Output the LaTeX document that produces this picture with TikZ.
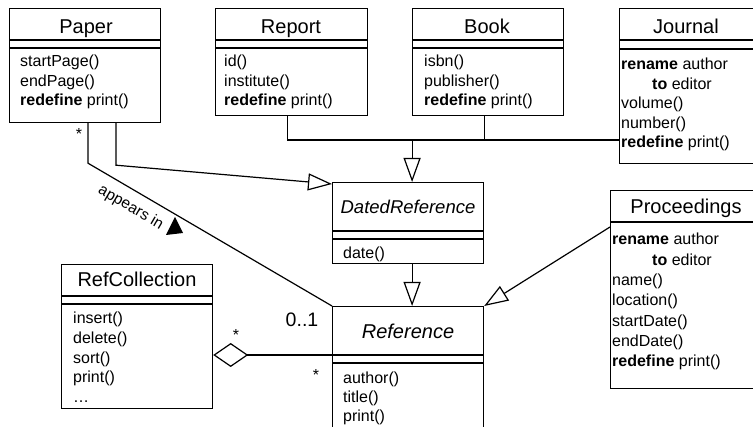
\documentclass[tikz,border=0pt]{standalone}
\usepackage{fontspec}
\setmainfont{Liberation Sans}
\usetikzlibrary{arrows.meta}

% class box: name, left, top, width, height
\newcommand\umlbox[5]{%
  \node[classbox, minimum width=#4pt, minimum height=#5pt, anchor=north west] (#1) at (#2,#3) {};}
% compartment separator: node, distance below its top edge
\newcommand\umlsep[2]{%
  \draw[conn] ([yshift=-#2pt]#1.north west) -- ([yshift=-#2pt]#1.north east);}
% member lines: prefix, left, first baseline, baseline spacing, list
\newcommand\umlmembers[5]{%
  \foreach \t [count=\i from 0] in {#5}
    \node[memb] (#1-\i) at (#2, #3+#4*\i) {\t};}

\begin{document}
\begin{tikzpicture}[x=1pt,y=-1pt,
  classbox/.style={draw, line width=1.2pt, inner sep=0pt},
  conn/.style={line width=1.2pt},
  hdr/.style={anchor=base, inner sep=0pt, font=\fontsize{20}{22}\selectfont},
  memb/.style={anchor=base west, inner sep=0pt, font=\fontsize{16}{18}\selectfont},
  mult/.style={anchor=base, inner sep=0pt, font=\fontsize{16}{18}\selectfont},
  gen/.style={conn, line join=miter, -{Triangle[open, length=24pt, width=17pt]}},
  agg/.style={conn, line join=miter, {Diamond[open, length=35pt, width=24pt]}-},
]
\useasboundingbox (0,0) rectangle (753,427);
\fill[white] (0,0) rectangle (753,427);
\clip (0,0) rectangle (753,427);

% ---- classes ----
\umlbox{paper}{9}{8}{151}{114}
\umlsep{paper}{32}\umlsep{paper}{40}
\node[hdr] (paper-t) at (86,34) {Paper};
\umlmembers{paper}{20}{67}{19.5}{startPage(), endPage(), \textbf{redefine} print()}

\umlbox{report}{215}{8}{152}{107}
\umlsep{report}{32}\umlsep{report}{40}
\node[hdr] (report-t) at (291,34) {Report};
\umlmembers{report}{224}{67}{19.5}{id(), institute(), \textbf{redefine} print()}

\umlbox{book}{412}{8}{151}{107}
\umlsep{book}{32}\umlsep{book}{40}
\node[hdr] (book-t) at (487,34) {Book};
\umlmembers{book}{424}{67}{19.5}{isbn(), publisher(), \textbf{redefine} print()}

\umlbox{journal}{619}{8}{141}{155}
\umlsep{journal}{32}\umlsep{journal}{41}
\node[hdr] (journal-t) at (686,34) {Journal};
\umlmembers{journal}{621}{70}{19.5}{\textbf{rename} author, \hspace*{31pt}\textbf{to} editor, volume(), number(), \textbf{redefine} print()}

\umlbox{dated}{332}{182}{151}{81}
\umlsep{dated}{49}\umlsep{dated}{57}
\node[hdr, font=\fontsize{18.5}{22}\selectfont\itshape] (dated-t) at (408,214) {DatedReference};
\umlmembers{dated}{343}{259}{19.5}{date()}

\umlbox{ref}{332}{306}{151}{140}
\umlsep{ref}{49}\umlsep{ref}{57}
\node[hdr, font=\fontsize{20}{22}\selectfont\itshape] (ref-t) at (408,339) {Reference};
\umlmembers{ref}{343}{384}{19}{author(), title(), print()}

\umlbox{proc}{610}{190}{150}{198}
\umlsep{proc}{32}
\node[hdr] (proc-t) at (686,214) {Proceedings};
\umlmembers{proc}{612}{245}{20.3}{\textbf{rename} author, \hspace*{40pt}\textbf{to} editor, name(), location(), startDate(), endDate(), \textbf{redefine} print()}

\umlbox{rcoll}{61}{264}{151}{144}
\umlsep{rcoll}{32}\umlsep{rcoll}{40}
\node[hdr] (rcoll-t) at (137,287) {RefCollection};
\umlmembers{rcoll}{73}{324}{19.6}{insert(), delete(), sort(), print(), …}

% ---- generalisations ----
\coordinate (bus) at ([yshift=-132pt]journal.north west);
\coordinate (reportfoot) at ([xshift=-4pt]report.south);
\coordinate (bookfoot) at ([xshift=-4pt]book.south);
\coordinate (datedtop) at ([xshift=4pt]dated.north);
\draw[conn] (reportfoot) |- (bus);
\draw[conn] (bookfoot) -- (bookfoot |- bus);
\draw[gen] (datedtop |- bus) -- (datedtop);
\draw[gen] ([xshift=107pt]paper.south west) -- ++(0,42) -- ([yshift=-2pt]dated.north west);
\draw[gen] ([xshift=4pt]dated.south) -- ([xshift=4pt]ref.north);
\draw[gen] ([yshift=-37pt]proc.north west) -- (ref.north east);

% ---- association Paper -- Reference ----
\draw[conn] ([xshift=79pt]paper.south west) -- ++(0,40)
  -- node[sloped, pos=0.21, below=7pt, inner sep=2pt, font=\fontsize{15.5}{18}\selectfont] (appears) {appears in}
  (ref.north west);
\fill (175,217) -- (166,235) -- (183,233) -- cycle;
\node[mult] (m-paper) at (79,140) {*};
\node[mult, font=\fontsize{19.5}{22}\selectfont] (m-ref) at (302,327) {0..1};

% ---- aggregation RefCollection -- Reference ----
\coordinate (refsep) at ([yshift=-49pt]ref.north west);
\draw[agg] (rcoll.east |- refsep) -- (refsep);
\node[mult] (m-agg1) at (236,341) {*};
\node[mult] (m-agg2) at (316,381) {*};
\end{tikzpicture}
\end{document}
